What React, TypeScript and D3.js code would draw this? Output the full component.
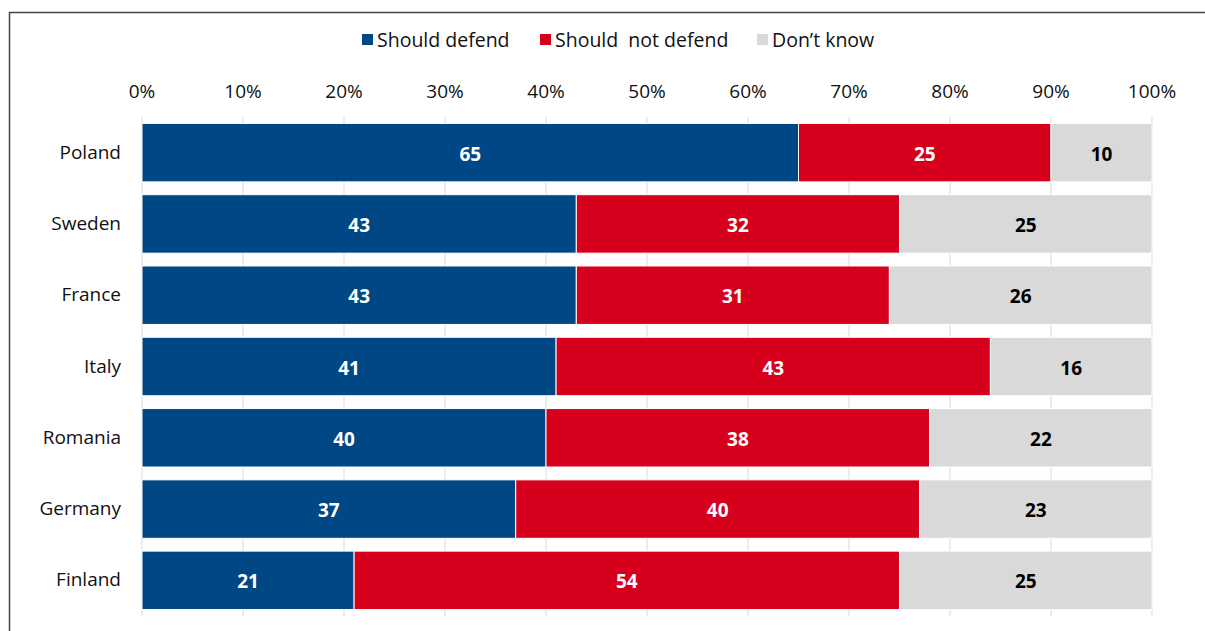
import React from "react";
import * as d3 from "d3";

const countries = ["Poland", "Sweden", "France", "Italy", "Romania", "Germany", "Finland"];
const shouldDefend = [65, 43, 43, 41, 40, 37, 21];
const shouldNotDefend = [25, 32, 31, 43, 38, 40, 54];
const dontKnow = [10, 25, 26, 16, 22, 23, 25];
const seriesNames = ["Should defend", "Should  not defend", "Don\u2019t know"];
const seriesColors = ["#004785", "#d6001c", "#d9d9d9"];
const labelColors = ["#ffffff", "#ffffff", "#000000"];
const tickValues = [0, 10, 20, 30, 40, 50, 60, 70, 80, 90, 100];

const W = 1205;
const H = 631;
const FONT = "'Open Sans', 'Noto Sans', sans-serif";

export default function App() {
  const x = d3.scaleLinear().domain([0, 100]).range([142, 1152]);
  const y = d3
    .scaleBand<string>()
    .domain(countries)
    .range([117, 616])
    .paddingInner(0.18)
    .paddingOuter(0.09);

  const rows = countries.map((c, i) => ({
    country: c,
    v0: shouldDefend[i],
    v1: shouldNotDefend[i],
    v2: dontKnow[i],
  }));
  const stack = d3.stack<any>().keys(["v0", "v1", "v2"])(rows);

  const legendItems = [
    { x: 362, textX: 377 },
    { x: 540, textX: 555 },
    { x: 757, textX: 772 },
  ];

  return (
    <svg
      width={W}
      height={H}
      style={{ position: "absolute", left: 0, top: 0, background: "#fff" }}
      fontFamily={FONT}
    >
      {/* frame */}
      <path d={`M9.5,${H} V12.5 H${W}`} fill="none" stroke="#444" strokeWidth={1.5} />

      {/* legend */}
      {seriesNames.map((name, i) => (
        <g key={name}>
          <rect x={legendItems[i].x} y={34} width={11} height={11} fill={seriesColors[i]} />
          <text
            x={legendItems[i].textX}
            y={39.5}
            dominantBaseline="central"
            fontSize={19.5}
            fill="#111"
            style={{ whiteSpace: "pre" }}
          >
            {name}
          </text>
        </g>
      ))}

      {/* gridlines */}
      {tickValues.map((t) => (
        <line
          key={t}
          x1={x(t)}
          x2={x(t)}
          y1={117}
          y2={616}
          stroke="#d9d9d9"
          strokeWidth={1}
        />
      ))}

      {/* tick labels */}
      {tickValues.map((t) => (
        <text
          key={t}
          x={x(t)}
          y={90.5}
          textAnchor="middle"
          dominantBaseline="central"
          fontSize={19}
          fill="#111"
        >
          {t}%
        </text>
      ))}

      {/* bars */}
      {stack.map((s, si) =>
        s.map((d, di) => {
          const yy = y(countries[di])!;
          const x0 = x(d[0]);
          const x1 = x(d[1]);
          return (
            <g key={`${si}-${di}`}>
              <rect
                x={x0}
                y={yy}
                width={x1 - x0}
                height={y.bandwidth()}
                fill={seriesColors[si]}
                stroke="#ffffff"
                strokeWidth={1}
              />
              <text
                x={(x0 + x1) / 2}
                y={yy + y.bandwidth() / 2 + 1}
                textAnchor="middle"
                dominantBaseline="central"
                fontSize={19}
                fontWeight="bold"
                fill={labelColors[si]}
              >
                {d[1] - d[0]}
              </text>
            </g>
          );
        })
      )}

      {/* category labels */}
      {countries.map((c) => (
        <text
          key={c}
          x={121}
          y={y(c)! + y.bandwidth() / 2 - 1}
          textAnchor="end"
          dominantBaseline="central"
          fontSize={19}
          fill="#111"
        >
          {c}
        </text>
      ))}
    </svg>
  );
}
